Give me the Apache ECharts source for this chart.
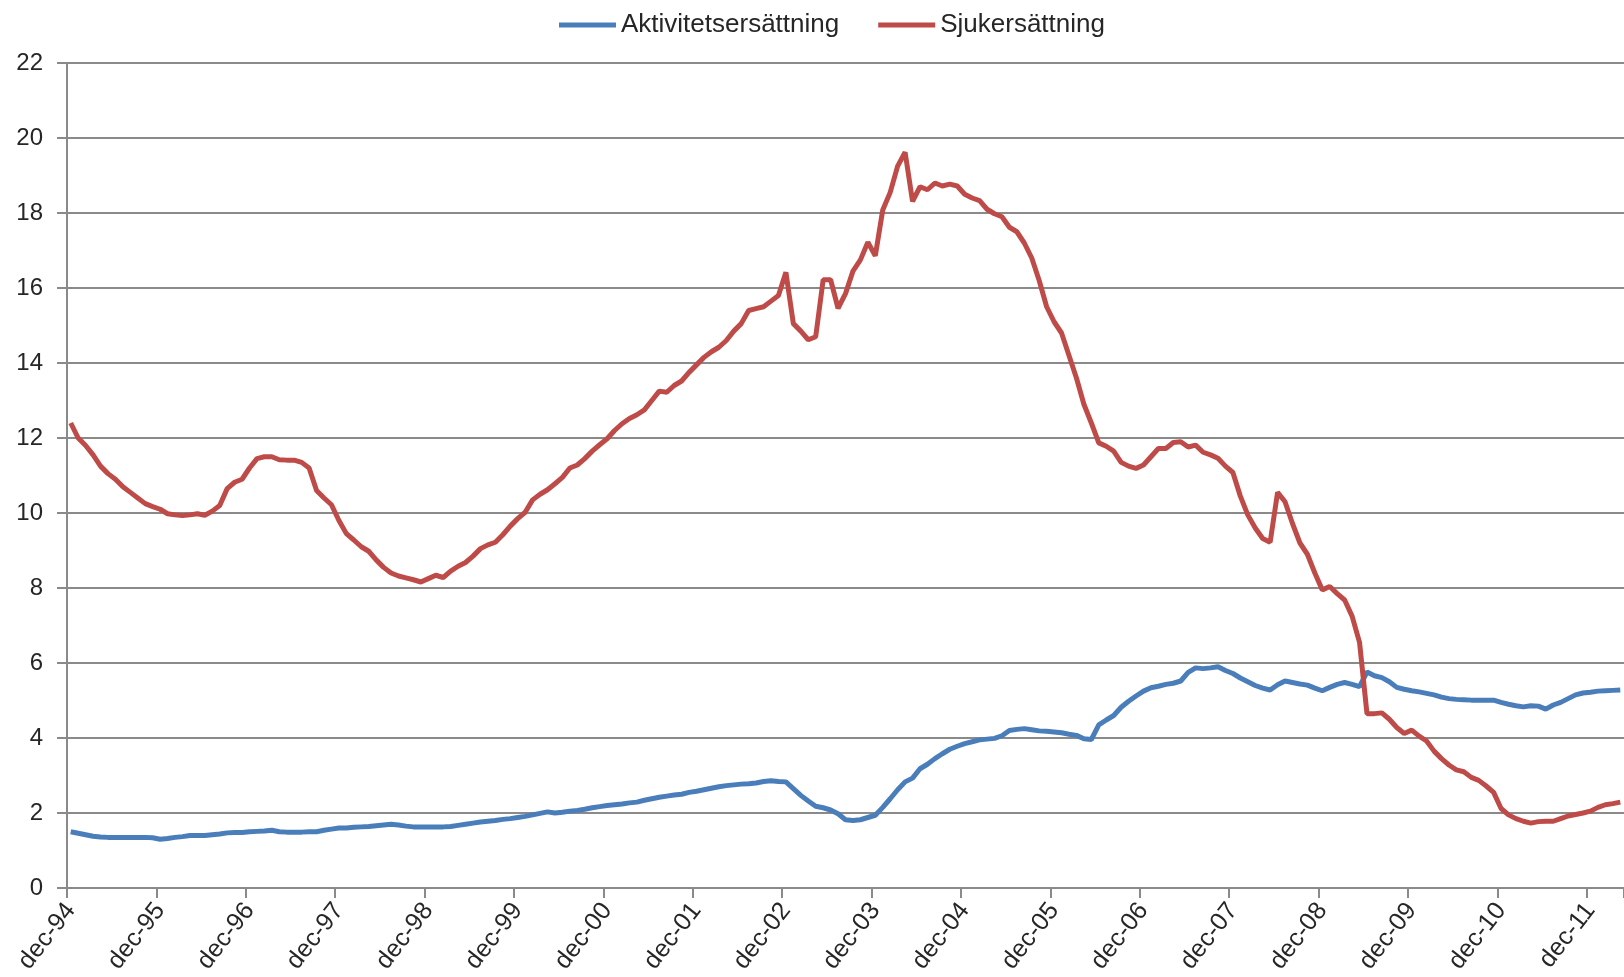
<!DOCTYPE html>
<html>
<head>
<meta charset="utf-8">
<script src="https://cdn.jsdelivr.net/npm/echarts@6/dist/echarts.min.js"></script>
<style>
html,body{margin:0;padding:0;background:#fff;}
#chart{width:1624px;height:977px;}
</style>
</head>
<body>
<div id="chart"></div>
<script>
// Monthly series, Dec 1994 .. Apr 2012
var startYear = 1994;
var monthNames = ['jan','feb','mar','apr','maj','jun','jul','aug','sep','okt','nov','dec'];
var seriesNames = ['Aktivitetsersättning', 'Sjukersättning'];
var yTicks = { min: 0, max: 22, interval: 2 };

var aktivitet = [
1.50,1.46,1.42,1.38,1.36,1.35,1.35,1.35,1.35,1.35,1.35,1.34,
1.30,1.32,1.35,1.37,1.40,1.40,1.40,1.42,1.44,1.47,1.48,1.48,
1.50,1.51,1.52,1.54,1.50,1.49,1.49,1.49,1.50,1.50,1.54,1.57,
1.60,1.60,1.62,1.63,1.64,1.66,1.68,1.70,1.68,1.65,1.63,1.63,
1.63,1.63,1.63,1.64,1.67,1.70,1.73,1.76,1.78,1.80,1.83,1.85,
1.88,1.91,1.95,1.99,2.03,2.00,2.02,2.05,2.07,2.10,2.14,2.17,
2.20,2.22,2.24,2.27,2.29,2.34,2.38,2.42,2.45,2.48,2.50,2.55,
2.58,2.62,2.66,2.70,2.73,2.75,2.77,2.78,2.80,2.84,2.86,2.84,
2.83,2.65,2.47,2.32,2.18,2.14,2.08,1.98,1.82,1.80,1.82,1.88,
1.94,2.15,2.38,2.62,2.83,2.93,3.18,3.30,3.45,3.58,3.70,3.78,
3.85,3.90,3.95,3.97,3.99,4.06,4.20,4.23,4.25,4.22,4.19,4.18,
4.16,4.14,4.10,4.07,3.98,3.96,4.35,4.48,4.60,4.82,4.98,5.12,
5.25,5.34,5.38,5.43,5.46,5.52,5.75,5.87,5.85,5.87,5.90,5.80,
5.72,5.60,5.50,5.40,5.33,5.28,5.42,5.52,5.48,5.44,5.41,5.33,
5.26,5.35,5.43,5.48,5.43,5.37,5.76,5.66,5.61,5.50,5.35,5.30,
5.26,5.23,5.19,5.15,5.09,5.05,5.03,5.02,5.01,5.01,5.01,5.01,
4.95,4.90,4.86,4.83,4.86,4.85,4.77,4.88,4.95,5.05,5.15,5.20,
5.22,5.25,5.26,5.27,5.28
];

var sjuk = [
12.40,12.00,11.80,11.55,11.25,11.05,10.90,10.70,10.55,10.40,10.25,10.17,
10.10,9.98,9.95,9.93,9.95,9.98,9.94,10.05,10.20,10.65,10.82,10.90,
11.20,11.45,11.50,11.50,11.42,11.41,11.41,11.35,11.20,10.60,10.40,10.22,
9.80,9.45,9.28,9.10,8.98,8.75,8.55,8.40,8.32,8.27,8.22,8.16,
8.25,8.34,8.28,8.45,8.58,8.68,8.85,9.05,9.15,9.22,9.42,9.65,
9.85,10.02,10.35,10.50,10.62,10.78,10.95,11.20,11.28,11.45,11.65,11.82,
11.98,12.20,12.38,12.52,12.62,12.75,13.00,13.25,13.22,13.40,13.52,13.75,
13.95,14.15,14.30,14.42,14.60,14.85,15.05,15.40,15.45,15.50,15.65,15.80,
16.42,15.05,14.85,14.62,14.70,16.22,16.22,15.46,15.85,16.45,16.75,17.22,
16.86,18.08,18.55,19.25,19.62,18.31,18.70,18.62,18.80,18.72,18.77,18.72,
18.50,18.40,18.33,18.10,17.98,17.90,17.62,17.50,17.20,16.80,16.20,15.50,
15.10,14.80,14.20,13.60,12.90,12.40,11.87,11.78,11.65,11.35,11.25,11.19,
11.28,11.50,11.72,11.72,11.88,11.90,11.76,11.81,11.62,11.55,11.46,11.25,
11.08,10.45,9.95,9.60,9.32,9.22,10.55,10.30,9.72,9.20,8.90,8.40,
7.95,8.04,7.85,7.68,7.25,6.55,4.65,4.65,4.67,4.50,4.28,4.12,
4.21,4.05,3.92,3.65,3.45,3.28,3.15,3.10,2.95,2.87,2.72,2.55,
2.12,1.95,1.85,1.78,1.73,1.77,1.78,1.78,1.85,1.92,1.96,2.00,
2.05,2.15,2.22,2.25,2.29
];

var categories = [];
for (var i = 0; i < sjuk.length; i++) {
  var m = (11 + i) % 12;
  var y = startYear + Math.floor((11 + i) / 12);
  categories.push(monthNames[m] + '-' + String(y).slice(2));
}

var grey = '#8a8a8a';
var textColor = '#262626';
var font = 'Liberation Sans';

var chart = echarts.init(document.getElementById('chart'), null, {renderer: 'canvas'});
chart.setOption({
  animation: false,
  backgroundColor: '#ffffff',
  color: ['#4A7EBB', '#BE4B48'],
  legend: {
    top: 7,
    left: 554,
    itemWidth: 57,
    itemHeight: 5,
    itemGap: 39,
    icon: 'rect',
    textStyle: { fontFamily: font, fontSize: 26, color: textColor, lineHeight: 26 },
    data: seriesNames
  },
  grid: { left: 67, right: 0, top: 63, bottom: 89, containLabel: false },
  xAxis: {
    type: 'category',
    data: categories,
    boundaryGap: true,
    axisLine: { show: true, lineStyle: { color: grey, width: 2 } },
    axisTick: { show: true, interval: 11, alignWithLabel: false, length: 10, lineStyle: { color: grey, width: 2 } },
    axisLabel: {
      interval: 11, rotate: 52, margin: 18,
      fontFamily: font, fontSize: 25, color: textColor
    },
    splitLine: { show: false }
  },
  yAxis: {
    type: 'value',
    min: yTicks.min, max: yTicks.max, interval: yTicks.interval,
    axisLine: { show: true, lineStyle: { color: grey, width: 2 } },
    axisTick: { show: true, length: 10, lineStyle: { color: grey, width: 2 } },
    axisLabel: { margin: 24, fontFamily: font, fontSize: 24, color: textColor },
    splitLine: { show: true, lineStyle: { color: grey, width: 2 } }
  },
  series: [
    {
      name: seriesNames[0], type: 'line', data: aktivitet,
      showSymbol: false, symbol: 'none', smooth: false,
      lineStyle: { width: 5, color: '#4A7EBB' }, z: 3
    },
    {
      name: seriesNames[1], type: 'line', data: sjuk,
      showSymbol: false, symbol: 'none', smooth: false,
      lineStyle: { width: 5, color: '#BE4B48' }, z: 4
    }
  ]
});
</script>
</body>
</html>
